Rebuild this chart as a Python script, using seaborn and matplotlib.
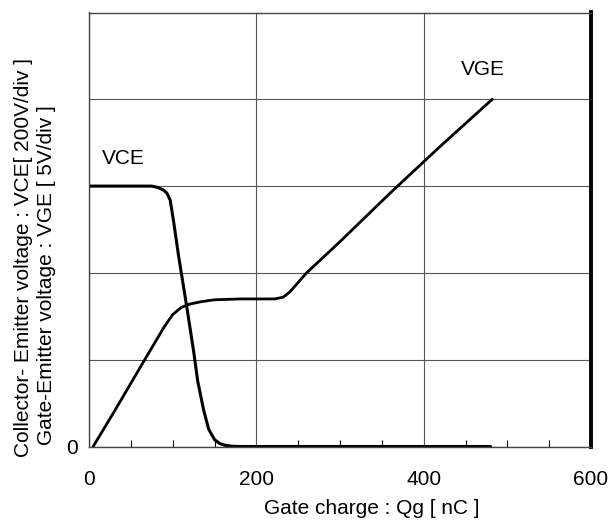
import matplotlib
matplotlib.use("Agg")
import matplotlib.pyplot as plt
import seaborn as sns
import pandas as pd
from matplotlib.ticker import MultipleLocator

# Data (y in divisions)
vce_q = [0, 75, 82, 89, 93, 97, 101, 107, 112, 117, 125, 130, 137, 143, 150, 156, 162, 170, 180, 250, 350, 480]
vce_v = [3.0, 3.0, 2.985, 2.955, 2.92, 2.84, 2.6, 2.2, 1.9, 1.6, 1.1, 0.75, 0.42, 0.2, 0.08, 0.035, 0.015, 0.004, 0, 0, 0, 0]
vge_q = [5, 30, 66, 90, 100, 110, 120, 135, 150, 180, 222, 232, 240, 260, 300, 360, 420, 482]
vge_v = [0, 0.40, 0.99, 1.38, 1.52, 1.60, 1.64, 1.67, 1.69, 1.70, 1.70, 1.72, 1.78, 2.0, 2.36, 2.92, 3.46, 4.0]
x_ticks = [0, 200, 400, 600]
x_tick_labels = ["0", "200", "400", "600"]

sns.set_style("white")
plt.rcParams['font.family'] = ['Liberation Sans', 'DejaVu Sans']
plt.rcParams['text.color'] = 'black'
plt.rcParams['axes.labelcolor'] = 'black'
plt.rcParams['xtick.color'] = 'black'
plt.rcParams['ytick.color'] = 'black'

FS = 15

fig = plt.figure(figsize=(6.09, 5.20), dpi=100)
ax = fig.add_axes([89/609, 1 - 446.5/520, (591 - 89)/609, (446.5 - 12.5)/520])

df_vce = pd.DataFrame({"q": vce_q, "v": vce_v})
df_vge = pd.DataFrame({"q": vge_q, "v": vge_v})
sns.lineplot(data=df_vce, x="q", y="v", ax=ax, color="black", linewidth=2.2, sort=False)
sns.lineplot(data=df_vge, x="q", y="v", ax=ax, color="black", linewidth=2.0, sort=False)

ax.set_xlim(0, 600)
ax.set_ylim(0, 5)
ax.set_xticks(x_ticks)
ax.set_xticklabels(x_tick_labels, fontsize=FS)
ax.xaxis.set_minor_locator(MultipleLocator(50))
ax.set_yticks([0, 1, 2, 3, 4, 5])
ax.set_yticklabels(["0", "", "", "", "", ""], fontsize=FS)
ax.tick_params(axis='x', which='major', length=0, pad=17)
ax.tick_params(axis='x', which='minor', direction='in', length=5, width=0.8, color='black', bottom=True)
ax.tick_params(axis='y', which='major', length=0, pad=8)
ax.grid(True, which='major', color='#555555', linewidth=0.8)
ax.set_axisbelow(True)
for s in ['left', 'bottom', 'top']:
    ax.spines[s].set_color('#444444')
    ax.spines[s].set_linewidth(1.0)
ax.spines['right'].set_color('black')
ax.spines['right'].set_linewidth(2.8)

ax.set_xlabel("Gate charge : Qg [ nC ]", fontsize=FS, labelpad=7)
ax.xaxis.label.set_x((372 - 89) / 502)
ax.set_ylabel("")

ax.text(16, 3.32, "VCE", fontsize=FS, ha='left', va='center')
ax.text(445, 4.34, "VGE", fontsize=FS, ha='left', va='center')

fig.text(23.5/609, 1 - 457/520, "Collector- Emitter voltage : VCE[ 200V/div ]",
         rotation=90, ha='center', va='bottom', fontsize=FS)
fig.text(47/609, 1 - 445/520, "Gate-Emitter voltage : VGE [ 5V/div ]",
         rotation=90, ha='center', va='bottom', fontsize=FS)

fig.savefig("out.png", dpi=100)
